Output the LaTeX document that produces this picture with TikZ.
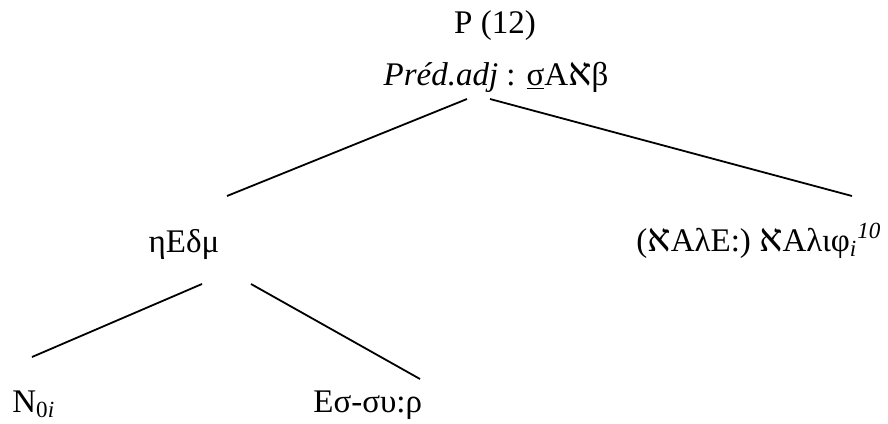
\documentclass[tikz,border=0pt]{standalone}
\usepackage{fontspec}
\setmainfont{Liberation Serif}
\newfontfamily\hebfont[Script=Hebrew]{Liberation Serif}
\newcommand{\alf}{{\hebfont\fontsize{19.5}{20}\selectfont א}}
\begin{document}
\begin{tikzpicture}[x=0.5pt,y=-0.5pt,
  lbl/.style={inner sep=0pt, font=\fontsize{16.5}{20}\selectfont},
  branch/.style={line width=0.9pt}]
\useasboundingbox (0,0) rectangle (888,423);
% labels
\node[lbl,anchor=base] (top) at (495,33) {P (12)};
\node[lbl,anchor=base] (pred) at (496,85) {\textit{Préd.adj} : \underline{σ}A\alf β};
\node[lbl,anchor=base] (ned) at (184,252) {ηEδμ};
\node[lbl,anchor=base west] (alq) at (636,251) {(\alf AλE:) \alf Aλιφ\textsubscript{\textit{i}}\textsuperscript{\textit{10}}};
\node[lbl,anchor=base west] (nz) at (12,412) {N\textsubscript{0\textit{i}}};
\node[lbl,anchor=base west] (esr) at (313,412) {Eσ-συ:ρ};
% branch end points
\coordinate (pl) at (467,99);
\coordinate (pr) at (490,99);
\coordinate (nl) at (227,196);
\coordinate (ar) at (852,196);
\coordinate (ndl) at (202,284);
\coordinate (ndr) at (251,284);
\coordinate (nzt) at (32,357);
\coordinate (est) at (420,379);
% branches
\draw[branch] (pl) -- (nl);
\draw[branch] (pr) -- (ar);
\draw[branch] (ndl) -- (nzt);
\draw[branch] (ndr) -- (est);
\end{tikzpicture}
\end{document}
